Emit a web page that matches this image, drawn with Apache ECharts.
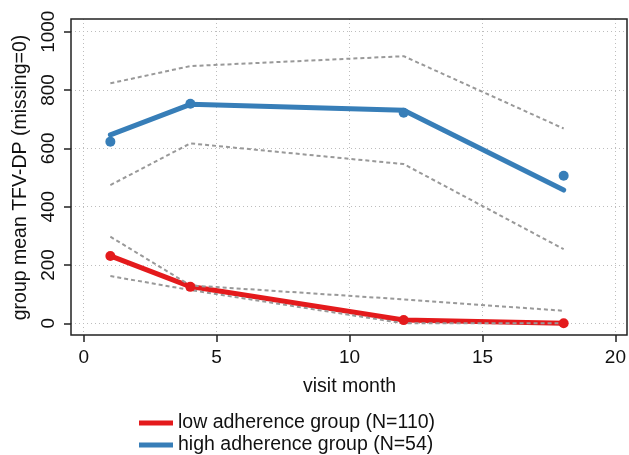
<!DOCTYPE html>
<html>
<head>
<meta charset="utf-8">
<script src="https://cdn.jsdelivr.net/npm/echarts@6/dist/echarts.min.js"></script>
<style>
html,body{margin:0;padding:0;background:#fff;}
#chart{width:629px;height:455px;}
</style>
</head>
<body>
<div id="chart"></div>
<script>
// ---- data ----
const months = [1, 4, 12, 18];
const lowFit = [231, 126, 11, 0];
const lowObs = [231, 125, 11, 0];
const lowUpper = [297, 130, 82, 43];
const lowLower = [162, 114, 0, 0];
const highFit = [646, 751, 731, 457];
const highObs = [623, 753, 722, 506];
const highUpper = [823, 882, 916, 668];
const highLower = [474, 617, 546, 254];
const xTicks = [0, 20, 5];      // min, max, interval
const yTicks = [0, 1000, 200];  // min, max, interval
const lowName = 'low adherence group (N=110)';
const highName = 'high adherence group (N=54)';
const xTitle = 'visit month';
const yTitle = 'group mean TFV-DP (missing=0)';

const RED = '#E41A1C', BLUE = '#377EB8', GREY = '#999999';
const FONT = 'Liberation Sans, Arial, sans-serif';
const TXT = '#111';

function pairs(xs, ys) { return xs.map((x, i) => [x, ys[i]]); }

const chart = echarts.init(document.getElementById('chart'), null, {renderer: 'canvas'});

function lineSeries(name, ys, color) {
  return {
    name: name, type: 'line', xAxisIndex: 3, yAxisIndex: 3,
    data: pairs(months, ys), showSymbol: false, clip: false,
    lineStyle: {color: color, width: 5, cap: 'round', join: 'round'},
    itemStyle: {color: color}, z: 3
  };
}
function ciSeries(ys) {
  return {
    type: 'line', xAxisIndex: 3, yAxisIndex: 3, data: pairs(months, ys),
    showSymbol: false, clip: false, silent: true,
    lineStyle: {color: GREY, width: 2, type: [4, 3]}, z: 4
  };
}
function dotSeries(ys, color) {
  return {
    type: 'scatter', xAxisIndex: 3, yAxisIndex: 3, data: pairs(months, ys),
    symbol: 'circle', symbolSize: 10, itemStyle: {color: color, opacity: 1}, z: 5, silent: true
  };
}
function legendFor(name, top) {
  return {
    left: 134, top: top, icon: 'rect', itemWidth: 34, itemHeight: 5,
    selectedMode: false, data: [name],
    textStyle: {color: TXT, fontSize: 19.5, fontFamily: FONT}
  };
}

const option = {
  animation: false,
  backgroundColor: '#fff',
  textStyle: {fontFamily: FONT},
  grid: [
    {left: 71, top: 19, width: 556, height: 316, show: true, borderColor: '#222', borderWidth: 1.5, backgroundColor: 'transparent', z: 10},
    {left: 83.7, top: 19, width: 533.3, height: 316},
    {left: 71, top: 31.7, width: 556, height: 291.6},
    {left: 83.7, top: 31.7, width: 533.3, height: 291.6}
  ],
  xAxis: [
    {gridIndex: 0, type: 'value', show: false, min: 0, max: 1},
    {gridIndex: 1, type: 'value', min: xTicks[0], max: xTicks[1], interval: xTicks[2],
     position: 'bottom',
     name: xTitle, nameLocation: 'middle', nameGap: 42,
     nameTextStyle: {color: TXT, fontSize: 19.5, fontFamily: FONT},
     axisLine: {show: false},
     axisTick: {show: true, length: 7, lineStyle: {color: '#222', width: 1.5}},
     axisLabel: {color: TXT, fontSize: 19, fontFamily: FONT, margin: 13},
     splitLine: {show: true, lineStyle: {color: '#bdbdbd', width: 1, type: [1, 3]}}},
    {gridIndex: 2, type: 'value', show: false, min: 0, max: 1},
    {gridIndex: 3, type: 'value', show: false, min: xTicks[0], max: xTicks[1]}
  ],
  yAxis: [
    {gridIndex: 0, type: 'value', show: false, min: 0, max: 1},
    {gridIndex: 1, type: 'value', show: false, min: 0, max: 1},
    {gridIndex: 2, type: 'value', min: yTicks[0], max: yTicks[1], interval: yTicks[2],
     position: 'left',
     name: yTitle, nameLocation: 'middle', nameGap: 40,
     nameTextStyle: {color: TXT, fontSize: 19.5, fontFamily: FONT},
     axisLine: {show: false},
     axisTick: {show: true, length: 7, lineStyle: {color: '#222', width: 1.5}},
     axisLabel: {color: TXT, fontSize: 19, fontFamily: FONT, rotate: 90, margin: 13,
                 formatter: function (v) { return String(v); }},
     splitLine: {show: true, lineStyle: {color: '#bdbdbd', width: 1, type: [1, 3]}}},
    {gridIndex: 3, type: 'value', show: false, min: yTicks[0], max: yTicks[1]}
  ],
  legend: [legendFor(lowName, 408), legendFor(highName, 430)],
  series: [
    lineSeries(lowName, lowFit, RED),
    lineSeries(highName, highFit, BLUE),
    ciSeries(lowUpper), ciSeries(lowLower),
    ciSeries(highUpper), ciSeries(highLower),
    dotSeries(lowObs, RED),
    dotSeries(highObs, BLUE)
  ]
};
chart.setOption(option);
</script>
</body>
</html>
